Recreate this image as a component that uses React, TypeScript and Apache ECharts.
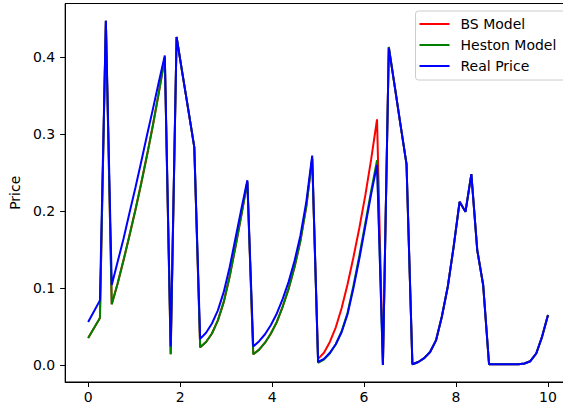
import React, { useEffect, useRef } from "react";
import * as echarts from "echarts";

const times = [
  0, 0.128, 0.256, 0.385, 0.513, 0.641, 0.769, 0.897, 1.026, 1.154,
  1.282, 1.41, 1.538, 1.667, 1.795, 1.923, 2.051, 2.179, 2.308, 2.436,
  2.564, 2.692, 2.821, 2.949, 3.077, 3.205, 3.333, 3.462, 3.59, 3.718,
  3.846, 3.974, 4.103, 4.231, 4.359, 4.487, 4.615, 4.744, 4.872, 5.0,
  5.128, 5.256, 5.385, 5.513, 5.641, 5.769, 5.897, 6.026, 6.154, 6.282,
  6.41, 6.538, 6.667, 6.795, 6.923, 7.051, 7.179, 7.308, 7.436, 7.564,
  7.692, 7.821, 7.949, 8.077, 8.205, 8.333, 8.462, 8.59, 8.718, 8.846,
  8.974, 9.103, 9.231, 9.359, 9.487, 9.615, 9.744, 9.872, 10.0,
];

const realPrice = [
  0.056, 0.07, 0.084, 0.447, 0.104, 0.134, 0.164, 0.197, 0.23, 0.264,
  0.299, 0.333, 0.368, 0.402, 0.024, 0.426, 0.378, 0.331, 0.283, 0.034,
  0.042, 0.054, 0.071, 0.095, 0.127, 0.165, 0.203, 0.24, 0.024, 0.031,
  0.04, 0.052, 0.067, 0.086, 0.108, 0.135, 0.168, 0.212, 0.272, 0.004,
  0.008, 0.016, 0.027, 0.043, 0.066, 0.1, 0.138, 0.18, 0.222, 0.26,
  0.0, 0.412, 0.362, 0.311, 0.261, 0.001, 0.004, 0.009, 0.017, 0.032,
  0.063, 0.102, 0.154, 0.212, 0.199, 0.248, 0.149, 0.104, 0.001, 0.001,
  0.001, 0.001, 0.001, 0.001, 0.002, 0.005, 0.015, 0.037, 0.065,
];

const hestonModel = [
  0.035, 0.048, 0.061, 0.447, 0.079, 0.106, 0.136, 0.168, 0.201, 0.236,
  0.273, 0.312, 0.354, 0.399, 0.014, 0.426, 0.378, 0.331, 0.283, 0.023,
  0.03, 0.041, 0.058, 0.082, 0.115, 0.154, 0.195, 0.238, 0.014, 0.02,
  0.029, 0.041, 0.056, 0.076, 0.099, 0.127, 0.161, 0.206, 0.268, 0.003,
  0.007, 0.015, 0.027, 0.044, 0.068, 0.103, 0.142, 0.184, 0.226, 0.266,
  0.0, 0.413, 0.362, 0.311, 0.261, 0.001, 0.004, 0.009, 0.017, 0.032,
  0.063, 0.102, 0.154, 0.212, 0.199, 0.248, 0.149, 0.104, 0.001, 0.001,
  0.001, 0.001, 0.001, 0.001, 0.002, 0.005, 0.015, 0.037, 0.065,
];

const bsModel = [
  0.035, 0.048, 0.061, 0.447, 0.079, 0.106, 0.136, 0.168, 0.201, 0.236,
  0.273, 0.312, 0.354, 0.399, 0.014, 0.426, 0.378, 0.331, 0.283, 0.023,
  0.03, 0.041, 0.058, 0.082, 0.115, 0.154, 0.195, 0.238, 0.014, 0.02,
  0.029, 0.041, 0.056, 0.076, 0.099, 0.127, 0.161, 0.206, 0.268, 0.008,
  0.016, 0.03, 0.049, 0.074, 0.105, 0.14, 0.178, 0.22, 0.267, 0.319,
  0.0, 0.413, 0.362, 0.311, 0.261, 0.001, 0.004, 0.009, 0.017, 0.032,
  0.063, 0.102, 0.154, 0.212, 0.199, 0.248, 0.149, 0.104, 0.001, 0.001,
  0.001, 0.001, 0.001, 0.001, 0.002, 0.005, 0.015, 0.037, 0.065,
];

const xTicks = [0, 2, 4, 6, 8, 10];
const yTicks = [0, 0.1, 0.2, 0.3, 0.4];
const seriesNames = ["BS Model", "Heston Model", "Real Price"];
const seriesColors = ["#ff0000", "#008000", "#0000ff"];

const FONT = "DejaVu Sans";

export default function App() {
  const ref = useRef<HTMLDivElement>(null);

  useEffect(() => {
    if (!ref.current) return;
    const chart = echarts.init(ref.current, undefined, { renderer: "svg" });
    const seriesData = [bsModel, hestonModel, realPrice];
    chart.setOption({
      animation: false,
      backgroundColor: "#ffffff",
      textStyle: { fontFamily: FONT },
      grid: {
        left: 63,
        top: 3.5,
        width: 508,
        height: 378.5,
        show: true,
        borderColor: "#000000",
        borderWidth: 1,
        backgroundColor: "transparent",
      },
      legend: {
        orient: "vertical",
        left: 415.5,
        top: 11,
        backgroundColor: "#ffffff",
        borderColor: "#cccccc",
        borderWidth: 1,
        borderRadius: 3,
        padding: [6, 14, 7, 4],
        itemWidth: 30,
        itemHeight: 2,
        itemGap: 7,
        icon: "rect",
        selectedMode: false,
        textStyle: {
          fontFamily: FONT,
          fontSize: 14,
          lineHeight: 14,
          color: "#000000",
          padding: [0, 0, 0, 6],
        },
        data: seriesNames,
      },
      xAxis: {
        type: "value",
        min: -0.5,
        max: 10.5,
        axisLine: {
          show: true,
          onZero: false,
          lineStyle: { color: "#000000", width: 1 },
        },
        axisTick: {
          show: true,
          length: 5,
          customValues: xTicks,
          lineStyle: { color: "#000000", width: 1 },
        },
        axisLabel: {
          customValues: xTicks,
          margin: 8,
          fontFamily: FONT,
          fontSize: 14,
          color: "#000000",
          formatter: (v: number) => String(v),
        },
        splitLine: { show: false },
      },
      yAxis: {
        type: "value",
        min: -0.022,
        max: 0.4695,
        name: "Price",
        nameLocation: "middle",
        nameRotate: 90,
        nameGap: 42,
        nameTextStyle: { fontFamily: FONT, fontSize: 14, color: "#000000" },
        axisLine: {
          show: true,
          onZero: false,
          lineStyle: { color: "#000000", width: 1 },
        },
        axisTick: {
          show: true,
          length: 5,
          customValues: yTicks,
          lineStyle: { color: "#000000", width: 1 },
        },
        axisLabel: {
          customValues: yTicks,
          margin: 10,
          fontFamily: FONT,
          fontSize: 14,
          color: "#000000",
          formatter: (v: number) => v.toFixed(1),
        },
        splitLine: { show: false },
      },
      series: seriesNames.map((name, k) => ({
        name,
        type: "line",
        showSymbol: false,
        symbol: "none",
        silent: true,
        color: seriesColors[k],
        lineStyle: { color: seriesColors[k], width: 2 },
        emphasis: { disabled: true },
        data: times.map((t, i) => [t, seriesData[k][i]]),
      })),
    });
    return () => chart.dispose();
  }, []);

  return (
    <div
      style={{
        position: "fixed",
        left: 0,
        top: 0,
        width: 563,
        height: 412,
        overflow: "hidden",
        background: "#ffffff",
      }}
    >
      <div ref={ref} style={{ width: 600, height: 412 }} />
    </div>
  );
}
